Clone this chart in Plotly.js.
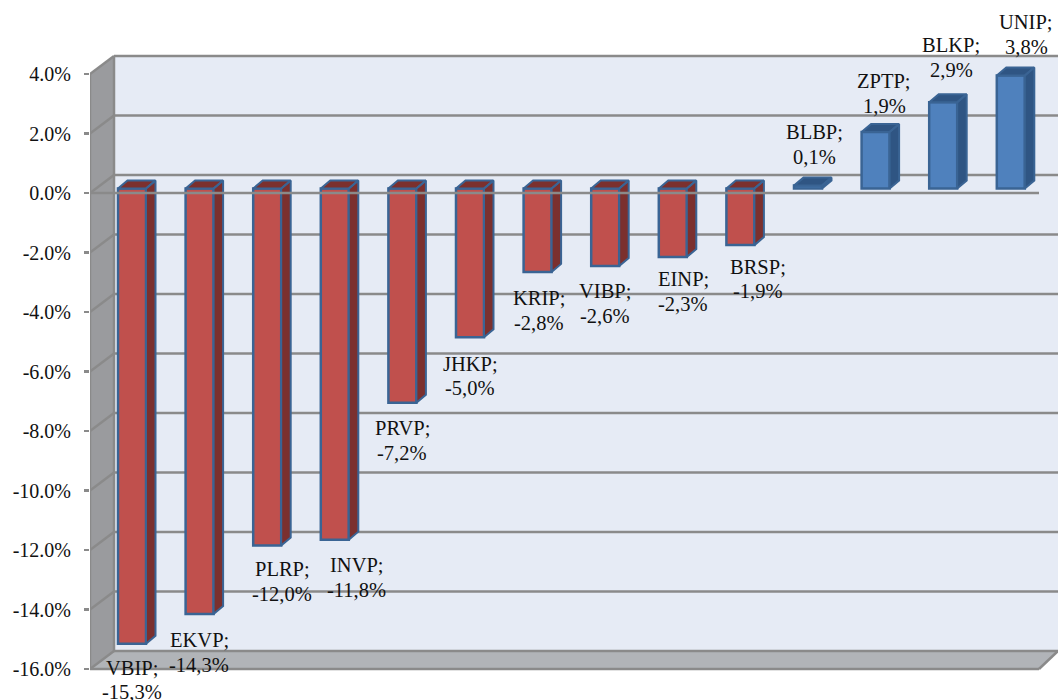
<!DOCTYPE html>
<html>
<head>
<meta charset="utf-8">
<script src="https://cdn.plot.ly/plotly-3.0.1.min.js"></script>
<style>html,body{margin:0;padding:0;background:#fff}#chart{width:1058px;height:700px}</style>
</head>
<body>
<div id="chart"></div>
<script>
// ---- data
const categories = ['VBIP','EKVP','PLRP','INVP','PRVP','JHKP','KRIP','VIBP','EINP','BRSP','BLBP','ZPTP','BLKP','UNIP'];
const values = [-15.3,-14.3,-12.0,-11.8,-7.2,-5.0,-2.8,-2.6,-2.3,-1.9,0.1,1.9,2.9,3.8];
const tickVals = [4,2,0,-2,-4,-6,-8,-10,-12,-14,-16];
const tickLabels = ['4.0%','2.0%','0.0%','-2.0%','-4.0%','-6.0%','-8.0%','-10.0%','-12.0%','-14.0%','-16.0%'];

// ---- label nudges in px relative to the end of each bar (layout, not data)
const labelDx = [0,-0.6,14.8,21.7,-0.4,0,1.4,-0.7,10.2,17.1,6,8.4,7.8,15.2];
const labelDy = [36,38.5,36,38,37.5,38.5,38.5,37.5,34.5,34,-41,-38.5,-45,-41];
const LINE_GAP = 24.5, FONT = 20.5;

// ---- geometry
const W = 1058, H = 700, LEFT = 90;
const pxX = 67.6, pxY = 29.75;            // px per category / per percent
const yTop = 4 + 74 / pxY, yBot = -16 - 31 / pxY;
const xMax = (W - LEFT) / pxX, xFloor = (1039 - LEFT) / pxX;
const wallDx = 24 / pxX, wallDy = 18 / pxY;      // depth of the box
const barW = 28 / pxX;
const barShift = (132 - LEFT) / pxX - 0.5;
const barBase = 4.4 / pxY;                // bars stand a little inside the box
const barDx = 9.5 / pxX, barDy = 8 / pxY;

const GRID = '#8a8a8a', WALL = '#e6ebf5', SIDE = '#9a9b9e', FLOOR = '#b1b4b8';
const RED = '#c0504d', RED_D = '#7b302e', BLUE = '#4f81bd', BLUE_D = '#2f5583', EDGE = '#3a6494';

const poly = (pts, fill) => ({type:'path', layer:'below', xref:'x', yref:'y',
  path: 'M' + pts.map(p => p[0] + ',' + p[1]).join('L') + 'Z', fillcolor: fill, line:{width:0}});
const seg = (x0,y0,x1,y1) => ({type:'line', layer:'below', xref:'x', yref:'y', x0,y0,x1,y1, line:{color:GRID,width:2.5}});

const shapes = [
  poly([[wallDx,4+wallDy],[xMax,4+wallDy],[xMax,-16+wallDy],[wallDx,-16+wallDy]], WALL),
  poly([[0,4],[wallDx,4+wallDy],[wallDx,-16+wallDy],[0,-16]], SIDE),
  poly([[0,-16],[wallDx,-16+wallDy],[xMax,-16+wallDy],[xFloor,-16]], FLOOR)
];
tickVals.forEach(v => {
  shapes.push(seg(0,v,wallDx,v+wallDy));
  shapes.push(seg(wallDx,v+wallDy,xMax,v+wallDy));
});
shapes.push(seg(0,4,0,-16));
shapes.push(seg(wallDx,4+wallDy,wallDx,-16+wallDy));
shapes.push(seg(0,-16,xFloor,-16));
shapes.push(seg(xFloor,-16,xMax,-16+wallDy));

const barX = categories.map((_, i) => i + 0.5 + barShift);

function faceTrace(indices, color) {
  const xs = [], ys = [];
  indices.forEach(i => {
    const l = barX[i] - barW/2, r = barX[i] + barW/2, b = barBase, e = values[i] + barBase;
    const t = Math.max(b, e), u = Math.min(b, e);
    [[r,t],[r+barDx,t+barDy],[r+barDx,u+barDy],[r,u],[r,t],[null,null],
     [l,t],[l+barDx,t+barDy],[r+barDx,t+barDy],[r,t],[l,t],[null,null]].forEach(p => {xs.push(p[0]); ys.push(p[1]);});
  });
  return {type:'scatter', mode:'lines', x:xs, y:ys, fill:'toself', fillcolor:color,
          line:{color:EDGE,width:2,shape:'linear'}, hoverinfo:'skip', connectgaps:false};
}
const neg = [], pos = [];
values.forEach((v,i) => (v < 0 ? neg : pos).push(i));

const traces = [
  {type:'bar', x:barX, y:values, base:barBase, width:barW,
   marker:{color:values.map(v => v < 0 ? RED : BLUE), line:{color:EDGE,width:2.5}}, hoverinfo:'skip'},
  faceTrace(neg, RED_D),
  faceTrace(pos, BLUE_D),
  {type:'scatter', mode:'lines', x:[0,xFloor], y:[0,0], line:{color:GRID,width:2.5}, hoverinfo:'skip'}
];

const fmt = v => v.toFixed(1).replace('.', ',') + '%';
const labelFont = {family:'"Liberation Serif", serif', size:FONT, color:'#111'};
const annotations = [];
categories.forEach((c,i) => {
  [[c + ';', LINE_GAP/2], [fmt(values[i]), -LINE_GAP/2]].forEach(([text, up]) => {
    annotations.push({xref:'x', yref:'y', x:barX[i], y:values[i] + barBase,
      xshift:labelDx[i], yshift:-labelDy[i] + up, xanchor:'center', yanchor:'middle',
      text, showarrow:false, align:'center', font:labelFont, borderpad:0});
  });
});

const layout = {
  width:W, height:H, margin:{l:LEFT,r:0,t:0,b:0}, paper_bgcolor:'#fff', plot_bgcolor:'rgba(0,0,0,0)',
  showlegend:false, barmode:'overlay',
  xaxis:{range:[0,xMax], visible:false, fixedrange:true},
  yaxis:{range:[yBot,yTop], tickmode:'array', tickvals:tickVals, ticktext:tickLabels,
         ticks:'outside', ticklen:5, tickwidth:2.5, tickcolor:GRID, showgrid:false, zeroline:false, showline:false,
         ticklabelstandoff:9,
         tickfont:{family:'"Liberation Serif", serif', size:20, color:'#111'}, fixedrange:true},
  shapes, annotations
};
Plotly.newPlot('chart', traces, layout, {displayModeBar:false, staticPlot:true});
</script>
</body>
</html>
